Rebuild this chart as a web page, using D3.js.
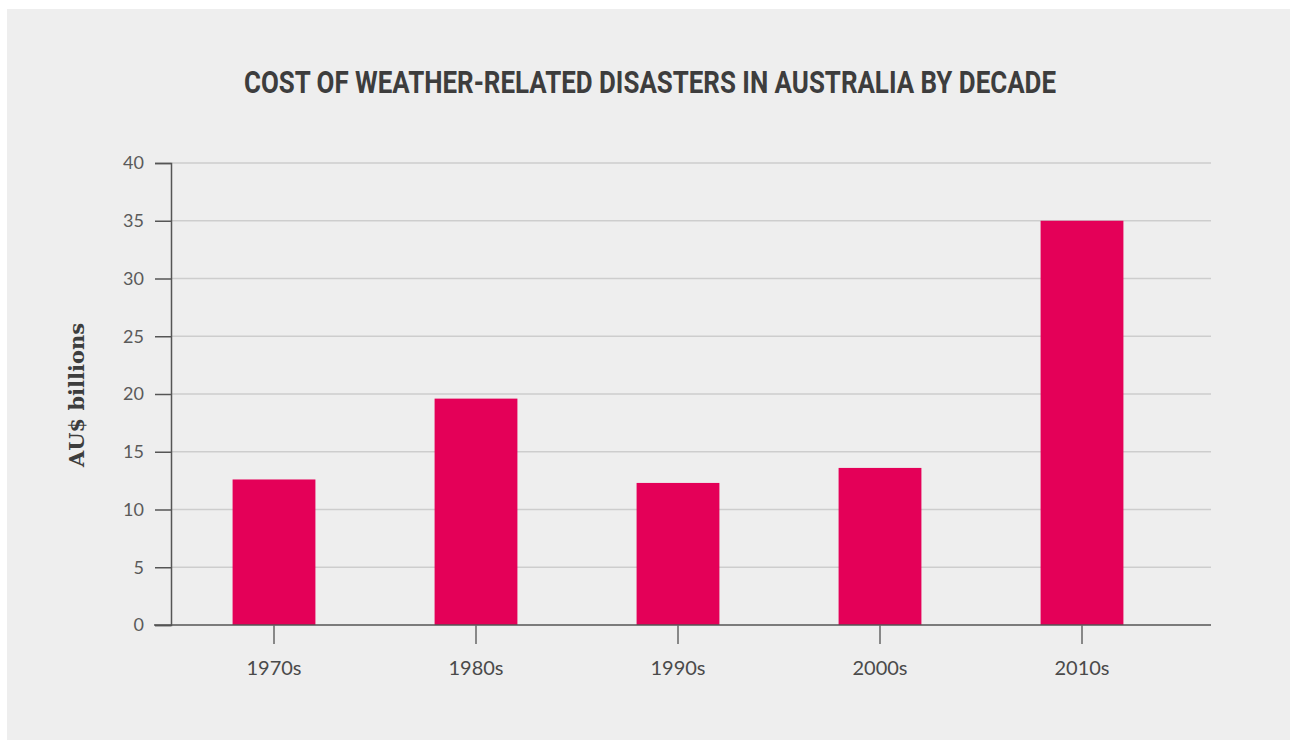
<!DOCTYPE html>
<html>
<head>
<meta charset="utf-8">
<script src="https://cdn.jsdelivr.net/npm/d3@7"></script>
<style>
  html, body { margin: 0; padding: 0; background: #ffffff; }
</style>
</head>
<body>
<div id="chart"></div>
<script>
// Data
const decades = ["1970s", "1980s", "1990s", "2000s", "2010s"];
const costs = [12.6, 19.6, 12.3, 13.6, 35.0];
const yTicks = [0, 5, 10, 15, 20, 25, 30, 35, 40];

const width = 1293;
const height = 740;

const svg = d3.select("#chart")
    .append("svg")
    .attr("width", width)
    .attr("height", height);

// Grey panel
svg.append("rect")
    .attr("x", 7).attr("y", 9)
    .attr("width", 1283).attr("height", 731)
    .attr("fill", "#eeeeee");

// Title (condensed look squeezed to the reference width)
svg.append("text")
    .attr("x", 650)
    .attr("y", 93)
    .attr("text-anchor", "middle")
    .attr("textLength", 812)
    .attr("lengthAdjust", "spacingAndGlyphs")
    .style("font-family", "Roboto, sans-serif")
    .style("font-weight", "bold")
    .style("font-size", "32px")
    .style("fill", "#3d3d3d")
    .text("COST OF WEATHER-RELATED DISASTERS IN AUSTRALIA BY DECADE");

// Scales
const y = d3.scaleLinear().domain([0, 40]).range([625, 163]);
const x = d3.scaleBand()
    .domain(decades)
    .range([173, 1183])
    .paddingInner(0.59)
    .paddingOuter(0.295);

const plotLeft = 171;
const plotRight = 1211;

// Gridlines
svg.append("g")
    .selectAll("line")
    .data(yTicks.filter(t => t > 0))
    .join("line")
    .attr("x1", plotLeft).attr("x2", plotRight)
    .attr("y1", d => y(d)).attr("y2", d => y(d))
    .attr("stroke", "#cdcdcd")
    .attr("stroke-width", 1.5);

// Bars
svg.append("g")
    .selectAll("rect")
    .data(costs)
    .join("rect")
    .attr("x", (d, i) => x(decades[i]))
    .attr("width", x.bandwidth())
    .attr("y", d => y(d))
    .attr("height", d => y(0) - y(d))
    .attr("fill", "#e40058");

// Y axis
const yAxis = svg.append("g")
    .attr("transform", `translate(${plotLeft},0)`)
    .call(d3.axisLeft(y).tickValues(yTicks).tickSize(16).tickPadding(11));
yAxis.select(".domain").attr("stroke", "#555").attr("stroke-width", 1.5);
yAxis.selectAll(".tick line").attr("stroke", "#555").attr("stroke-width", 1.5);
yAxis.selectAll(".tick text")
    .style("font-family", "Lato, sans-serif")
    .style("font-size", "18px")
    .style("fill", "#5a5a5a");

// X axis
const xAxis = svg.append("g")
    .attr("transform", `translate(0,${y(0)})`)
    .call(d3.axisBottom(x).tickSize(19).tickPadding(17).tickSizeOuter(0));
xAxis.select(".domain")
    .attr("d", `M154,0H${plotRight}`)
    .attr("stroke", "#555").attr("stroke-width", 1.5);
xAxis.selectAll(".tick line").attr("stroke", "#666").attr("stroke-width", 1.5);
xAxis.selectAll(".tick text")
    .style("font-family", "Lato, sans-serif")
    .style("font-size", "20px")
    .style("fill", "#4a4a4a");

// Y axis label
svg.append("text")
    .attr("transform", "translate(84,395) rotate(-90)")
    .attr("text-anchor", "middle")
    .style("font-family", "'DejaVu Serif', serif")
    .style("font-weight", "bold")
    .style("font-size", "21px")
    .style("fill", "#3d3d3d")
    .text("AU$ billions");
</script>
</body>
</html>
